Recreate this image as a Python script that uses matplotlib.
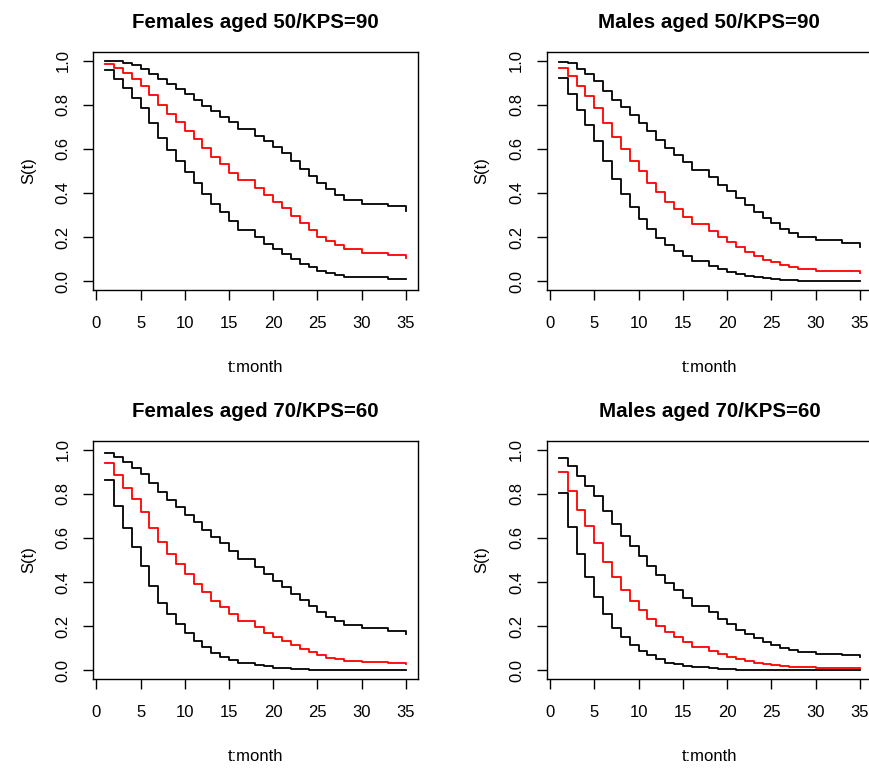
import matplotlib
matplotlib.use("Agg")
import matplotlib.pyplot as plt
import numpy as np

plt.rcParams['font.family'] = ['Liberation Sans', 'DejaVu Sans']

# follow-up months
months = list(range(1, 36))

# Females aged 50, KPS=90
f50_est = [0.985, 0.967, 0.945, 0.917, 0.885, 0.844, 0.798, 0.758, 0.721, 0.682,
           0.644, 0.605, 0.564, 0.530, 0.492, 0.458, 0.458, 0.423, 0.390, 0.359,
           0.330, 0.294, 0.264, 0.233, 0.200, 0.180, 0.162, 0.144, 0.144, 0.129,
           0.129, 0.129, 0.117, 0.117, 0.106]
f50_lo = [0.958, 0.915, 0.874, 0.830, 0.783, 0.715, 0.650, 0.594, 0.545, 0.495,
          0.445, 0.394, 0.348, 0.315, 0.271, 0.233, 0.233, 0.200, 0.170, 0.144,
          0.121, 0.100, 0.080, 0.062, 0.048, 0.038, 0.029, 0.021, 0.021, 0.017,
          0.017, 0.017, 0.012, 0.012, 0.008]
f50_hi = [1.000, 0.998, 0.991, 0.980, 0.961, 0.939, 0.915, 0.892, 0.870, 0.847,
          0.821, 0.795, 0.771, 0.745, 0.720, 0.689, 0.689, 0.659, 0.635, 0.608,
          0.579, 0.545, 0.509, 0.476, 0.445, 0.418, 0.392, 0.370, 0.370, 0.352,
          0.352, 0.352, 0.341, 0.341, 0.317]

# Males aged 50, KPS=90
m50_est = [0.965, 0.932, 0.885, 0.841, 0.786, 0.715, 0.653, 0.597, 0.545, 0.498,
           0.447, 0.402, 0.359, 0.326, 0.292, 0.258, 0.258, 0.227, 0.200, 0.179,
           0.155, 0.133, 0.115, 0.098, 0.085, 0.074, 0.064, 0.055, 0.055, 0.048,
           0.048, 0.048, 0.044, 0.044, 0.036]
m50_lo = [0.920, 0.848, 0.776, 0.706, 0.636, 0.544, 0.462, 0.394, 0.336, 0.283,
          0.238, 0.197, 0.162, 0.136, 0.112, 0.091, 0.091, 0.070, 0.055, 0.042,
          0.032, 0.024, 0.018, 0.014, 0.009, 0.006, 0.005, 0.003, 0.003, 0.002,
          0.002, 0.002, 0.001, 0.001, 0.001]
m50_hi = [0.995, 0.989, 0.962, 0.939, 0.909, 0.864, 0.823, 0.788, 0.753, 0.715,
          0.680, 0.642, 0.605, 0.571, 0.538, 0.503, 0.503, 0.470, 0.438, 0.408,
          0.377, 0.344, 0.314, 0.288, 0.264, 0.238, 0.218, 0.200, 0.200, 0.185,
          0.185, 0.185, 0.174, 0.174, 0.155]

# Females aged 70, KPS=60
f70_est = [0.939, 0.884, 0.827, 0.774, 0.716, 0.643, 0.580, 0.528, 0.481, 0.437,
           0.393, 0.354, 0.316, 0.286, 0.254, 0.224, 0.224, 0.195, 0.171, 0.151,
           0.132, 0.113, 0.098, 0.082, 0.068, 0.057, 0.050, 0.044, 0.044, 0.039,
           0.039, 0.039, 0.035, 0.035, 0.029]
f70_lo = [0.861, 0.746, 0.644, 0.558, 0.474, 0.384, 0.307, 0.254, 0.209, 0.168,
          0.135, 0.104, 0.080, 0.062, 0.048, 0.036, 0.036, 0.026, 0.018, 0.012,
          0.009, 0.006, 0.005, 0.003, 0.002, 0.002, 0.001, 0.001, 0.001, 0.001,
          0.001, 0.001, 0.001, 0.001, 0.000]
f70_hi = [0.985, 0.965, 0.943, 0.917, 0.890, 0.849, 0.806, 0.772, 0.738, 0.705,
          0.672, 0.637, 0.604, 0.577, 0.539, 0.504, 0.504, 0.468, 0.436, 0.406,
          0.376, 0.346, 0.317, 0.290, 0.265, 0.242, 0.222, 0.206, 0.206, 0.191,
          0.191, 0.191, 0.179, 0.179, 0.165]

# Males aged 70, KPS=60
m70_est = [0.899, 0.811, 0.728, 0.652, 0.575, 0.489, 0.421, 0.363, 0.316, 0.274,
           0.234, 0.201, 0.174, 0.150, 0.127, 0.104, 0.104, 0.088, 0.073, 0.061,
           0.050, 0.041, 0.035, 0.029, 0.023, 0.020, 0.017, 0.014, 0.014, 0.012,
           0.012, 0.012, 0.011, 0.011, 0.009]
m70_lo = [0.803, 0.649, 0.528, 0.425, 0.334, 0.256, 0.194, 0.150, 0.115, 0.089,
          0.068, 0.050, 0.036, 0.027, 0.020, 0.014, 0.014, 0.009, 0.006, 0.005,
          0.003, 0.002, 0.001, 0.001, 0.001, 0.001, 0.000, 0.000, 0.000, 0.000,
          0.000, 0.000, 0.000, 0.000, 0.000]
m70_hi = [0.962, 0.924, 0.879, 0.834, 0.788, 0.723, 0.661, 0.610, 0.565, 0.519,
          0.474, 0.430, 0.395, 0.365, 0.327, 0.294, 0.294, 0.263, 0.233, 0.209,
          0.183, 0.165, 0.145, 0.129, 0.113, 0.101, 0.092, 0.083, 0.083, 0.074,
          0.074, 0.074, 0.070, 0.070, 0.059]

titles = ["Females aged 50/KPS=90", "Males aged 50/KPS=90",
          "Females aged 70/KPS=60", "Males aged 70/KPS=60"]
curves = [(f50_lo, f50_est, f50_hi), (m50_lo, m50_est, m50_hi),
          (f70_lo, f70_est, f70_hi), (m70_lo, m70_est, m70_hi)]

W, H = 870, 769
fig = plt.figure(figsize=(W / 100, H / 100), dpi=100)

# panel boxes in pixels: left, top, right, bottom
boxes = [(93.3, 51.7, 417.7, 290.0), (546.8, 51.7, 872.0, 290.0),
         (93.3, 440.7, 417.7, 679.3), (546.8, 440.7, 872.0, 679.3)]

for (l, t, r, b), title, (lo, est, hi) in zip(boxes, titles, curves):
    ax = fig.add_axes([l / W, 1 - b / H, (r - l) / W, (b - t) / H])
    ax.step(months, hi, where='post', color='black', lw=1.3)
    ax.step(months, est, where='post', color='red', lw=1.3)
    ax.step(months, lo, where='post', color='black', lw=1.3)

    ax.set_xlim(-0.36, 36.36)
    ax.set_ylim(-0.04, 1.04)
    ax.set_xticks(np.arange(0, 36, 5))
    ax.set_yticks(np.arange(0, 1.01, 0.2))
    ax.set_yticklabels([f"{v:.1f}" for v in np.arange(0, 1.01, 0.2)])
    ax.tick_params(direction='out', length=7.5, width=1, labelsize=12, pad=11)
    ax.tick_params(axis='y', labelrotation=90, pad=9)
    for lab in ax.get_yticklabels():
        lab.set_va('center')
    for sp in ax.spines.values():
        sp.set_linewidth(1.0)

    ax.set_title(title, fontsize=14.8, fontweight='bold', pad=17)
    ax.set_xlabel("t:month", fontsize=12, labelpad=21)
    ax.set_ylabel("S(t)", fontsize=12, labelpad=14)

fig.savefig("out.png", dpi=100)
